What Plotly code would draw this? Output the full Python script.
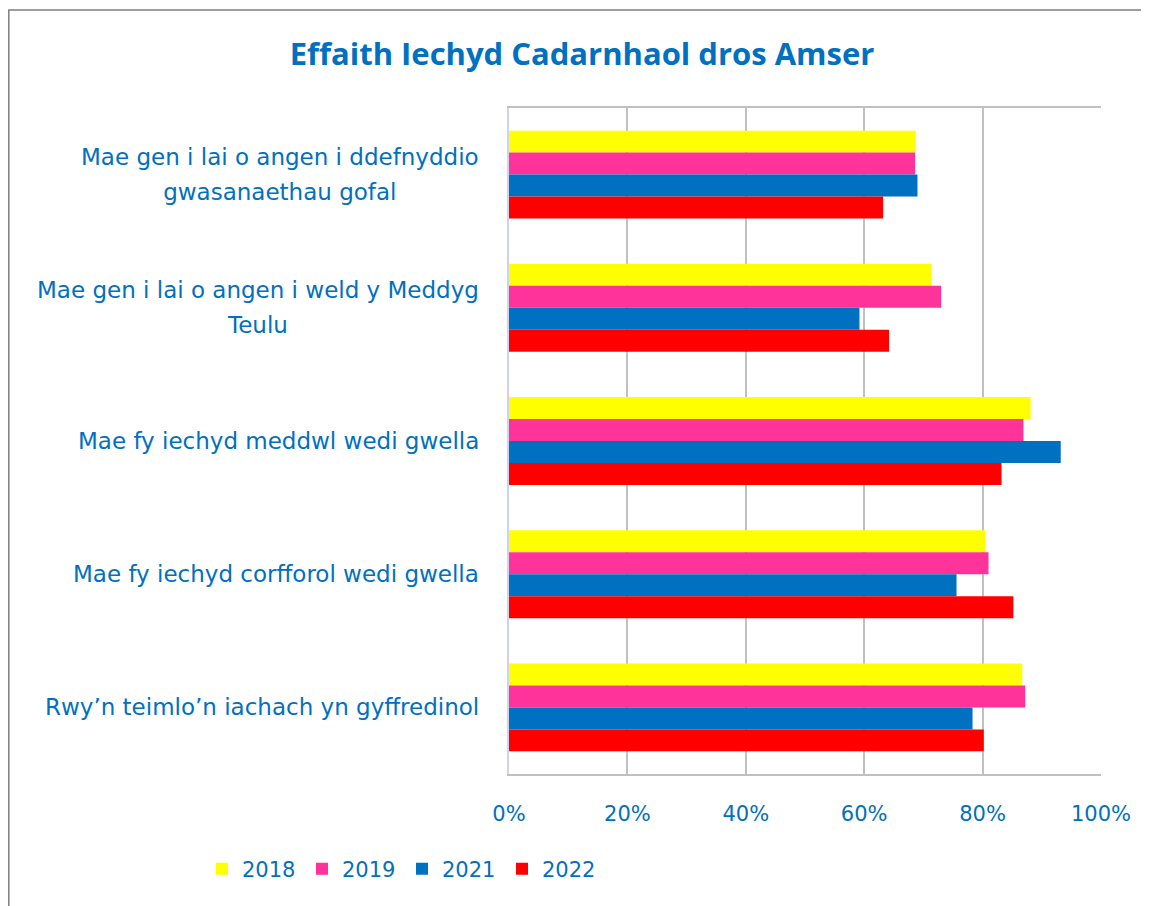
import plotly.graph_objects as go

categories = [
    "Mae gen i lai o angen i ddefnyddio<br>gwasanaethau gofal",
    "Mae gen i lai o angen i weld y Meddyg<br>Teulu",
    "Mae fy iechyd meddwl wedi gwella",
    "Mae fy iechyd corfforol wedi gwella",
    "Rwy’n teimlo’n iachach yn gyffredinol",
]
series_names = ["2018", "2019", "2021", "2022"]
v2018 = [0.687, 0.714, 0.881, 0.805, 0.867]
v2019 = [0.686, 0.730, 0.869, 0.810, 0.872]
v2021 = [0.690, 0.592, 0.932, 0.756, 0.783]
v2022 = [0.632, 0.642, 0.832, 0.852, 0.802]
colors = ["#FFFF00", "#FF3399", "#0070C0", "#FF0000"]

TEXT = "#0070C0"
FONT = "DejaVu Sans"
TFONT = "Open Sans"
LABEL_SIZE = 23
LINE_SPACING = 35  # px between baselines of two-line labels

fig = go.Figure()
for name, vals, col in zip(series_names, [v2018, v2019, v2021, v2022], colors):
    fig.add_trace(go.Bar(
        y=list(range(len(categories))), x=vals, name=name, orientation="h",
        marker=dict(color=col, line=dict(width=0)),
    ))

W, H = 1149, 906
OFF = 8  # page offset of the figure on screen
# plot area in screen pixels: x 509..1101, y 108..774
L, T = 509 - OFF, 108 - OFF
pw, ph = 592, 666
R = W - L - pw
B = H - T - ph

def px2x(sx):
    return (sx - 509) / pw

def py2y(sy):
    return (774 - sy) / ph

annotations = []
for i, c in enumerate(categories):
    lines = c.split("<br>")
    if len(lines) == 1:
        text, size = c, LABEL_SIZE
    else:
        # base size sets the line spacing (1.3em); spans set the glyph size
        size = LINE_SPACING / 1.3
        text = "<br>".join(f"<span style='font-size:{LABEL_SIZE}px'>{ln}</span>" for ln in lines)
    annotations.append(dict(
        xref="paper", yref="y", x=px2x(481), y=i, text=text, showarrow=False,
        xanchor="right", yanchor="middle", align="center",
        font=dict(family=FONT, size=size, color=TEXT),
    ))

fig.update_layout(
    width=W, height=H,
    margin=dict(l=L, r=R, t=T, b=B),
    paper_bgcolor="white", plot_bgcolor="white",
    barmode="group", bargap=0.34, bargroupgap=0,
    title=dict(text="<b>Effaith Iechyd Cadarnhaol dros Amser</b>",
               x=(582 - OFF) / W, xref="container", xanchor="center",
               y=1 - (54 - OFF) / H, yref="container", yanchor="middle",
               font=dict(family=TFONT, size=31, color=TEXT)),
    xaxis=dict(range=[0, 1], tickvals=[0, 0.2, 0.4, 0.6, 0.8, 1.0],
               tickformat=".0%", showgrid=True, gridcolor="#C0C0C0", gridwidth=2,
               zeroline=False, showline=True, mirror=True, linecolor="#C0C0C0", linewidth=2,
               ticks="", ticklabelstandoff=20,
               tickfont=dict(family=FONT, size=21, color=TEXT), fixedrange=True),
    yaxis=dict(autorange="reversed", showticklabels=False, showgrid=False,
               zeroline=False, showline=True, linecolor="#D0D0F0", linewidth=2,
               ticks="", fixedrange=True),
    legend=dict(orientation="h", x=px2x(202), y=py2y(869), xanchor="left", yanchor="middle",
                font=dict(family=FONT, size=21, color=TEXT),
                itemwidth=30, entrywidth=55, entrywidthmode="pixels",
                bgcolor="rgba(0,0,0,0)", traceorder="normal"),
    annotations=annotations,
    shapes=[dict(type="rect", xref="paper", yref="paper",
                 x0=px2x(8.8), x1=px2x(1170), y0=py2y(930), y1=py2y(10),
                 line=dict(color="#7F7F7F", width=1.5), fillcolor="rgba(0,0,0,0)", layer="below")],
    showlegend=True,
)

fig.write_html("out.html")
